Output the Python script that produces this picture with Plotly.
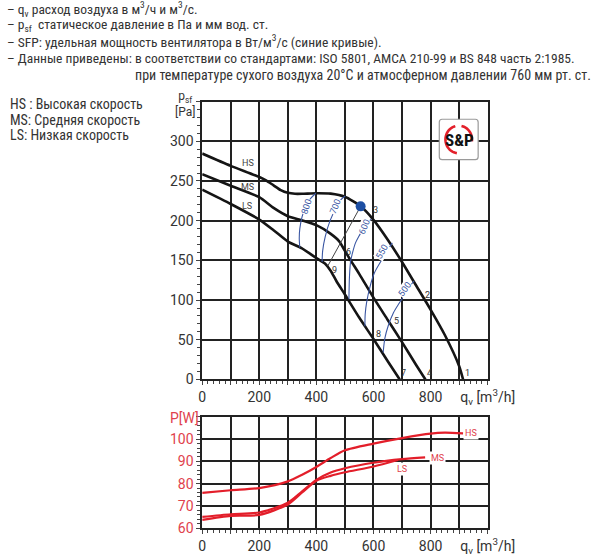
import plotly.graph_objects as go
import numpy as np

# ---------------- data ----------------
# pressure curves (q in m3/h, p in Pa)
q_hs = [0, 100, 200, 225, 250, 275, 300, 325, 350, 400, 450, 500, 555, 600, 650, 700, 750, 800, 850, 900, 914]
p_hs = [284.5, 269, 255, 250.5, 244.5, 238.5, 235, 233.8, 233.8, 234.5, 234, 230, 218, 201, 176, 148, 118, 88, 56, 17, 0]
q_ms = [0, 100, 200, 250, 300, 348, 400, 448, 480, 500, 520, 550, 600, 650, 700, 750, 782]
p_ms = [258.5, 244, 229.5, 216, 205.6, 200.6, 194.4, 184, 174, 162, 150, 133, 103, 75, 47, 18, 0]
q_ls = [0, 100, 200, 250, 300, 348, 400, 430, 450, 470, 500, 550, 600, 650, 692]
p_ls = [239, 221, 201.4, 188, 173.7, 165.4, 153, 146, 137, 124, 107, 78, 51, 23, 0]

# SFP curves (blue)
sfp_800_q = [398, 380, 364, 350, 342, 340, 342]
sfp_800_p = [234.5, 228, 219, 205, 190, 178, 166]
sfp_700_q = [501, 485, 470, 448, 431, 422, 420]
sfp_700_p = [231, 226, 217, 200, 180, 162, 148]
sfp_600_q = [592, 578, 564, 550, 537, 527, 520, 516, 514]
sfp_600_p = [202, 197, 190, 181, 172, 160, 149, 130, 101]
sfp_550_q = [666, 645, 623, 603, 588, 576, 571, 570]
sfp_550_p = [172, 160, 147, 134, 117, 97, 82, 67]
sfp_500_q = [742, 725, 708, 690, 670, 652, 640, 634]
sfp_500_p = [124, 116, 106, 96, 84, 68, 52, 34]
sfp_labels = ["800", "700", "600", "550", "500"]
sfp_label_q = [367, 468, 568, 630, 710]
sfp_label_p = [218, 218, 192, 160, 114]
sfp_label_angle = [-72, -68, -68, -60, -55]

# system line & working point
sys_q = [555, 440]
sys_p = [218, 143]
dot_q = [555]
dot_p = [218]

# numbered points
num_labels = ["1", "2", "3", "4", "5", "6", "7", "8", "9"]
num_q = [931, 789, 606, 798, 679, 514, 706, 617, 464]
num_p = [8, 107, 213, 8, 74, 161, 8, 57, 138]

# power curves (q in m3/h, P in W)
pw_q_hs = [0, 100, 200, 300, 350, 400, 450, 500, 600, 700, 800, 850, 914]
pw_hs = [75.8, 77, 78, 81, 84, 87.5, 91.5, 95, 98, 100.5, 102.5, 102.9, 102.6]
pw_q_ms = [0, 100, 200, 300, 350, 400, 450, 500, 600, 700, 781]
pw_ms = [65, 66.2, 67, 71.4, 76.5, 81.7, 85, 86.9, 89.4, 91, 91.8]
pw_q_ls = [0, 100, 200, 300, 350, 400, 450, 500, 600, 686]
pw_ls = [63.7, 65.5, 65.9, 70.6, 76, 81.3, 83.5, 85.1, 87.7, 90.6]

# axis ticks (grid every 100 / 50 / 10) and labels
q_ticks = list(range(0, 1001, 100))
q_ticktext = ["0", "", "200", "", "400", "", "600", "", "800", "", "q<sub>v</sub> [m<sup>3</sup>/h]"]
p_ticks = list(range(0, 351, 50))
p_ticktext = ["0", "50", "100", "150", "200", "250", "300", ""]
w_ticks = list(range(60, 111, 10))
w_ticktext = ["60", "70", "80", "90", "100", ""]
q_range = [0, 1000]
p_range = [0, 350]
w_range = [60, 110]

# ---------------- styles ----------------
W, H = 600, 559
FONT = "Roboto"
TFONT = "Liberation Sans Narrow, Roboto Condensed, Roboto"
BLACK = "#151515"
GRID = "#222222"
BLUE = "#3b57a3"
RED = "#e31e2a"
RED_T = "#e0414c"
TXT = "#333333"

X_DOM = [209 / W, 510 / W]
Y1_DOM = [1 - 385 / H, 1 - 103 / H]
Y2_DOM = [1 - 535.7 / H, 1 - 423 / H]


def px(x, y):
    return x / W, 1 - y / H


fig = go.Figure()

# upper chart curves
for q, p in [(q_hs, p_hs), (q_ms, p_ms), (q_ls, p_ls)]:
    fig.add_trace(go.Scatter(x=q, y=p, mode="lines", line=dict(color=BLACK, width=2.6, shape="spline", smoothing=0.6),
                             xaxis="x", yaxis="y", hoverinfo="skip"))
for q, p in [(sfp_800_q, sfp_800_p), (sfp_700_q, sfp_700_p), (sfp_600_q, sfp_600_p),
             (sfp_550_q, sfp_550_p), (sfp_500_q, sfp_500_p)]:
    fig.add_trace(go.Scatter(x=q, y=p, mode="lines", line=dict(color=BLUE, width=1.1, shape="spline", smoothing=0.8),
                             xaxis="x", yaxis="y", hoverinfo="skip"))
fig.add_trace(go.Scatter(x=sys_q, y=sys_p, mode="lines", line=dict(color="#444444", width=1),
                         xaxis="x", yaxis="y", hoverinfo="skip"))
fig.add_trace(go.Scatter(x=dot_q, y=dot_p, mode="markers", marker=dict(color="#1d4fa3", size=10),
                         xaxis="x", yaxis="y", hoverinfo="skip"))

# lower chart curves
for q, w in [(pw_q_hs, pw_hs), (pw_q_ms, pw_ms), (pw_q_ls, pw_ls)]:
    fig.add_trace(go.Scatter(x=q, y=w, mode="lines", line=dict(color=RED, width=2.2, shape="spline", smoothing=0.7),
                             xaxis="x2", yaxis="y2", hoverinfo="skip"))

axis_common = dict(
    showgrid=True, gridcolor=GRID, gridwidth=1.6,
    showline=True, mirror=True, linecolor="#222222", linewidth=1.6,
    ticks="outside", ticklen=4, tickcolor="#444444", tickwidth=1,
    zeroline=False, fixedrange=True, tickmode="array",
)


def minor(step):
    return dict(dtick=step, ticks="outside", ticklen=3, tickcolor="#444444", tickwidth=1, showgrid=False)


fig.update_layout(
    width=W, height=H,
    margin=dict(l=0, r=0, t=0, b=0),
    paper_bgcolor="white", plot_bgcolor="white",
    showlegend=False,
    font=dict(family=FONT, color=TXT),
    xaxis=dict(domain=X_DOM, range=q_range, anchor="y", tickvals=q_ticks, ticktext=q_ticktext,
               tickfont=dict(size=14, color=TXT), minor=minor(20), **axis_common),
    yaxis=dict(domain=Y1_DOM, range=p_range, anchor="x", tickvals=p_ticks, ticktext=p_ticktext,
               tickfont=dict(size=14, color=TXT), minor=minor(10), **axis_common),
    xaxis2=dict(domain=X_DOM, range=q_range, anchor="y2", tickvals=q_ticks, ticktext=q_ticktext,
                tickfont=dict(size=14, color=TXT), minor=minor(20), **axis_common),
    yaxis2=dict(domain=Y2_DOM, range=w_range, anchor="x2", tickvals=w_ticks, ticktext=w_ticktext,
                tickfont=dict(size=14, color=RED_T), minor=minor(2), **axis_common),
)

shapes = []
ann = []
# header text
header = [
    ("– q<sub>v</sub> расход воздуха в м<sup>3</sup>/ч и м<sup>3</sup>/с.", 9),
    ("– p<sub>sf</sub>  статическое давление в Па и мм вод. ст.", 25.5),
    ("– SFP: удельная мощность вентилятора в Вт/м<sup>3</sup>/с (синие кривые).", 42),
    ("– Данные приведены: в соответствии со стандартами: ISO 5801, AMCA 210-99 и BS 848 часть 2:1985.", 59),
]
for t, yy in header:
    x0, y0 = px(1, yy)
    ann.append(dict(text=t, x=x0, y=y0, xref="paper", yref="paper", xanchor="left", yanchor="middle",
                    align="left", showarrow=False, font=dict(size=13.5, color=TXT, family=TFONT)))
x0, y0 = px(136, 76)
ann.append(dict(text="при температуре сухого воздуха 20°С и атмосферном давлении 760 мм рт. ст.", x=x0, y=y0,
                xref="paper", yref="paper", xanchor="left", yanchor="middle", align="left", showarrow=False,
                font=dict(size=14, color=TXT, family=TFONT)))

for t, yy in [("HS : Высокая скорость", 106), ("MS: Средняя скорость", 122), ("LS: Низкая скорость", 137)]:
    x0, y0 = px(4, yy)
    ann.append(dict(text=t, x=x0, y=y0, xref="paper", yref="paper", xanchor="left", yanchor="middle",
                    align="left", showarrow=False, font=dict(size=14, color=TXT, family=TFONT)))

# axis titles
x0, y0 = px(191, 106)
ann.append(dict(text="p<sub>sf</sub><br>[Pa]", x=x0, y=y0, xref="paper", yref="paper", xanchor="center",
                yanchor="middle", showarrow=False, font=dict(size=12, color=TXT), align="center"))
x0, y0 = px(190, 424)
ann.append(dict(text="P[W]", x=x0, y=y0, xref="paper", yref="paper", xanchor="center", yanchor="middle",
                showarrow=False, font=dict(size=14, color=RED_T)))

# curve labels upper
for t, q, p in [("HS", 159, 273), ("MS", 159, 243), ("LS", 157, 219)]:
    ann.append(dict(text=t, x=q, y=p, xref="x", yref="y", showarrow=False, font=dict(size=9, color="#444444")))
for t, q, p in zip(num_labels, num_q, num_p):
    ann.append(dict(text=t, x=q, y=p, xref="x", yref="y", showarrow=False, font=dict(size=9, color="#333333")))
for t, q, p, a in zip(sfp_labels, sfp_label_q, sfp_label_p, sfp_label_angle):
    ann.append(dict(text=t, x=q, y=p, xref="x", yref="y", showarrow=False, textangle=a, bgcolor="white",
                    borderpad=0, font=dict(size=9, color=BLUE)))

# curve labels lower
for t, q, w in [("HS", 941, 102.8), ("MS", 826, 91.7), ("LS", 701, 86.4)]:
    ann.append(dict(text=t, x=q, y=w, xref="x2", yref="y2", showarrow=False, bgcolor="white", borderpad=1,
                    font=dict(size=9, color=RED_T)))

# logo
x1, y1, x2, y2, r = 459, 121, 500, 162, 3


def P(x, y):
    a, b = px(x, y)
    return f"{a:.5f},{b:.5f}"


box = (f"M {P(x1 + r, y1)} L {P(x2 - r, y1)} Q {P(x2, y1)} {P(x2, y1 + r)} L {P(x2, y2 - r)} "
       f"Q {P(x2, y2)} {P(x2 - r, y2)} L {P(x1 + r, y2)} Q {P(x1, y2)} {P(x1, y2 - r)} L {P(x1, y1 + r)} "
       f"Q {P(x1, y1)} {P(x1 + r, y1)} Z")
shapes.append(dict(type="path", path=box, xref="paper", yref="paper", fillcolor="white",
                   line=dict(color="#9a9a9a", width=1.2), layer="above"))
cx, cy, rr = 479.5, 141.5, 14


def arc(a0, a1):
    angs = np.radians(np.linspace(a0, a1, 24))
    pts = [P(cx + rr * np.cos(a), cy - rr * np.sin(a)) for a in angs]
    return "M " + " L ".join(pts)


shapes.append(dict(type="path", path=arc(105, 262), xref="paper", yref="paper",
                   line=dict(color="#e3202b", width=2.6), layer="above"))
shapes.append(dict(type="path", path=arc(-8, 78), xref="paper", yref="paper",
                   line=dict(color="#e3202b", width=2.6), layer="above"))
x0, y0 = px(480, 142)
ann.append(dict(text="<b>S&amp;P</b>", x=x0, y=y0, xref="paper", yref="paper", showarrow=False,
                xanchor="center", yanchor="middle",
                font=dict(size=17, color="#111111", family=TFONT)))

fig.update_layout(annotations=ann, shapes=shapes)
fig.write_html("out.html", config={"displayModeBar": False},
               post_script="document.body.style.margin='0';document.body.style.padding='0';"
                           "document.body.style.overflow='hidden';")
